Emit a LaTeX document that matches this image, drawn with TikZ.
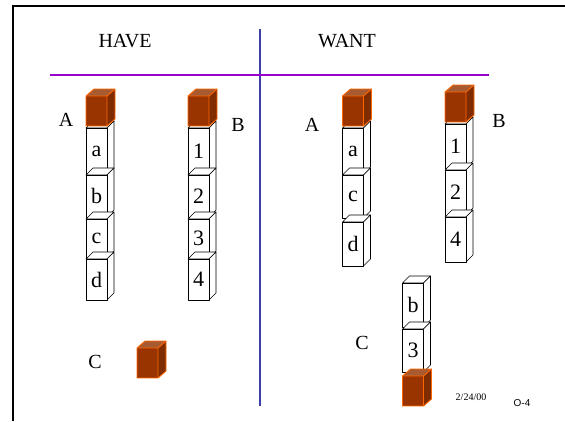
\documentclass[tikz,border=0pt]{standalone}
\usepackage{fontspec}
\setmainfont{Liberation Serif}
\newfontfamily\slidesans{Liberation Sans}

\definecolor{brickfront}{HTML}{993300}
\definecolor{bricktop}{HTML}{A85A30}
\definecolor{brickside}{HTML}{7F2C00}
\definecolor{brickedge}{HTML}{FF6600}
\definecolor{rulepurple}{HTML}{9900CC}
\definecolor{ruleblue}{HTML}{3F3FA8}

\tikzset{
  crate/.style={draw=black, fill=white, line width=0.6pt, line join=round},
  brick/.style={draw=brickedge, line width=0.9pt, line join=round},
  big/.style={font=\fontsize{20}{24}\selectfont, inner sep=0pt},
  tag/.style={font=\fontsize{22}{26}\selectfont, inner sep=0pt},
}

% white box: name, left x, front top y, front bottom y, label
\newcommand{\crate}[5]{%
  \draw[crate] (#2,#3) -- ++(7,-7) -- ++(21,0) -- ++(-7,7) -- cycle;
  \draw[crate] (#2+21,#3) -- ++(7,-7) -- (#2+28,#4-7) -- (#2+21,#4) -- cycle;
  \draw[crate] (#2,#3) rectangle (#2+21,#4);
  \node[tag] (#1) at ({#2+10.5},{(#3+#4)/2}) {#5};
}

% red block: name, left x, front top y
\newcommand{\brick}[3]{%
  \fill[bricktop] (#2,#3) -- ++(8,-7) -- ++(21,0) -- ++(-8,7) -- cycle;
  \fill[brickside] (#2+21,#3) -- ++(8,-7) -- ++(0,30) -- ++(-8,7) -- cycle;
  \fill[brickfront] (#2,#3) rectangle (#2+21,#3+30);
  \draw[brick] (#2,#3) -- ++(8,-7) -- ++(21,0) -- ++(0,30) -- ++(-8,7)
    -- ++(-21,0) -- cycle;
  \draw[brick] (#2,#3) -- ++(21,0) -- ++(8,-7) (#2+21,#3) -- ++(0,30);
  \coordinate (#1) at ({#2+10.5},{#3+15});
}

\begin{document}
\begin{tikzpicture}[x=1pt, y=-1pt]
  \useasboundingbox (0,0) rectangle (565,421);

  % slide frame
  \draw[line width=2.4pt] (13,421) -- (13,6) -- (565,6);

  % headings and rules
  \node[big] (have) at (125,41) {HAVE};
  \node[big] (want) at (347,41) {WANT};
  \draw[ruleblue, line width=2.4pt] (260,29) -- (260,406);
  \draw[rulepurple, line width=2.8pt] (50,75) -- (489,75);

  % HAVE: stack A
  \crate{ha}{86}{128}{175}{a}
  \crate{hb}{86}{175}{217}{b}
  \crate{hc}{86}{219}{258}{c}
  \crate{hd}{86}{259}{300}{d}
  \brick{hA}{86}{96}
  \node[big] (labhA) at (66,120) {A};

  % HAVE: stack B
  \crate{h1}{188}{128}{175}{1}
  \crate{h2}{188}{175}{217}{2}
  \crate{h3}{188}{219}{258}{3}
  \crate{h4}{188}{259}{300}{4}
  \brick{hB}{188}{96}
  \node[big] (labhB) at (238,125) {B};

  % HAVE: block C
  \brick{hC}{137}{348}
  \node[big] (labhC) at (95,362) {C};

  % WANT: stack A
  \crate{wa}{342.5}{128}{174}{a}
  \crate{wc}{342.5}{175}{218}{c}
  \crate{wd}{342.5}{222}{266}{d}
  \brick{wA}{342.5}{96}
  \node[big] (labwA) at (312,125) {A};

  % WANT: stack B
  \crate{w1}{445}{124}{168}{1}
  \crate{w2}{445}{170}{215}{2}
  \crate{w4}{445}{217}{262}{4}
  \brick{wB}{445}{92}
  \node[big] (labwB) at (499,121) {B};

  % WANT: stack C
  \crate{wb}{402.5}{283}{327}{b}
  \crate{w3}{402.5}{329}{372}{3}
  \brick{wC}{402.5}{376}
  \node[big] (labwC) at (362,343) {C};

  % footer
  \node[font=\fontsize{10}{12}\selectfont, inner sep=0pt] (date) at (471,397) {2/24/00};
  \node[font=\slidesans\fontsize{10}{12}\selectfont, inner sep=0pt] (page) at (522,403) {O-4};
\end{tikzpicture}
\end{document}
